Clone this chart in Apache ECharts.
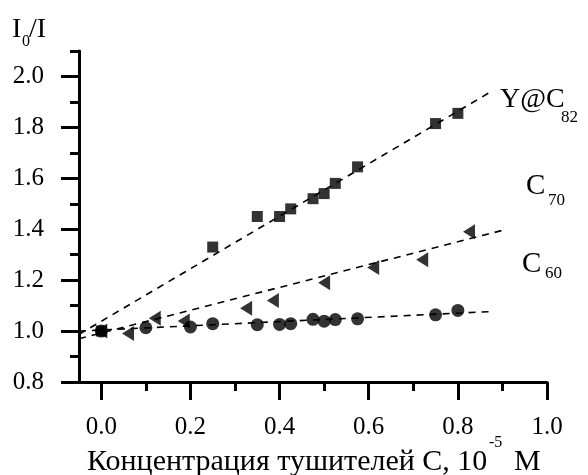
<!DOCTYPE html>
<html>
<head>
<meta charset="utf-8">
<script src="https://cdn.jsdelivr.net/npm/echarts@6/dist/echarts.min.js"></script>
<style>
  html, body { margin: 0; padding: 0; background: #fff; }
  #chart { width: 588px; height: 475px; }
</style>
</head>
<body>
<div id="chart"></div>
<script>
// Quencher concentration (10^-5 M) and I0/I for each fullerene
const concC82 = [0, 0.25, 0.35, 0.40, 0.425, 0.475, 0.50, 0.525, 0.575, 0.75, 0.80];
const ratioC82 = [1.00, 1.33, 1.45, 1.45, 1.48, 1.52, 1.54, 1.58, 1.645, 1.815, 1.855];

const concC70 = [0, 0.06, 0.12, 0.185, 0.325, 0.385, 0.50, 0.61, 0.72, 0.825];
const ratioC70 = [1.00, 0.99, 1.05, 1.04, 1.09, 1.12, 1.19, 1.25, 1.28, 1.39];

const concC60 = [0, 0.10, 0.20, 0.25, 0.35, 0.40, 0.425, 0.475, 0.50, 0.525, 0.575, 0.75, 0.80];
const ratioC60 = [1.00, 1.013, 1.016, 1.029, 1.025, 1.026, 1.029, 1.046, 1.039, 1.045, 1.048, 1.064, 1.081];

// Linear fits (end points of the dashed lines)
const fitC82 = [[-0.05, 0.987], [0.879, 1.945]];
const fitC70 = [[-0.05, 0.97], [0.91, 1.40]];
const fitC60 = [[-0.05, 1.00], [0.88, 1.077]];

// Axis ticks
const xMajor = [0.0, 0.2, 0.4, 0.6, 0.8, 1.0];
const xMinor = [0.1, 0.3, 0.5, 0.7, 0.9];
const yMajor = [0.8, 1.0, 1.2, 1.4, 1.6, 1.8, 2.0];
const yMinor = [0.9, 1.1, 1.3, 1.5, 1.7, 1.9, 2.1];

const FONT = "'Liberation Serif', 'Times New Roman', serif";
const pairs = (xs, ys) => xs.map((x, i) => [x, ys[i]]);

const chart = echarts.init(document.getElementById('chart'), null, { renderer: 'canvas' });

const tickStyle = { color: '#000', width: 3 };

// Value axis with explicit tick positions; a second copy without a line carries the short minor ticks
function axis(min, max, pos, showLine, ticks, tickLen, labels, margin) {
  return {
    type: 'value', min: min, max: max, position: pos,
    splitLine: { show: false },
    axisLine: { show: showLine, onZero: false, lineStyle: { color: '#000', width: 3 } },
    axisTick: { show: true, customValues: ticks, length: tickLen, lineStyle: tickStyle },
    axisLabel: labels ? {
      show: true, customValues: labels, margin: margin, color: '#000',
      fontSize: 25, fontFamily: FONT, formatter: v => v.toFixed(1)
    } : { show: false }
  };
}

function txt(x, y, text, size) {
  return {
    type: 'text', left: x, top: y,
    style: { text: text, font: size + 'px ' + FONT, fill: '#000' }
  };
}

const option = {
  animation: false,
  backgroundColor: '#fff',
  grid: { left: 79, right: 41, top: 51, bottom: 93, containLabel: false, outerBoundsMode: 'none' },
  xAxis: [
    axis(-0.05, 1.0, 'bottom', true, xMajor, 18, xMajor, 33),
    axis(-0.05, 1.0, 'bottom', false, xMinor, 9, null, 0)
  ],
  yAxis: [
    axis(0.8, 2.1, 'left', true, yMajor, 18, yMajor, 35),
    axis(0.8, 2.1, 'left', false, yMinor, 9, null, 0)
  ],
  series: [
    { type: 'line', data: fitC82, symbol: 'none', silent: true, z: 1,
      lineStyle: { color: '#000', width: 1.6, type: [7, 6] } },
    { type: 'line', data: fitC70, symbol: 'none', silent: true, z: 1,
      lineStyle: { color: '#000', width: 1.6, type: [7, 6] } },
    { type: 'line', data: fitC60, symbol: 'none', silent: true, z: 1,
      lineStyle: { color: '#000', width: 1.6, type: [7, 6] } },
    { type: 'scatter', name: 'Y@C82', data: pairs(concC82, ratioC82), z: 3,
      symbol: 'rect', symbolSize: 11, itemStyle: { color: '#000' } },
    { type: 'scatter', name: 'C70', data: pairs(concC70, ratioC70), z: 3,
      symbol: 'triangle', symbolSize: [15, 12], symbolRotate: 90, itemStyle: { color: '#000' } },
    { type: 'scatter', name: 'C60', data: pairs(concC60, ratioC60), z: 3,
      symbol: 'circle', symbolSize: 13, itemStyle: { color: '#000' } }
  ],
  graphic: [
    // y axis title I0/I
    txt(12, 16, 'I', 28),
    txt(22, 34, '0', 16),
    txt(29, 16, '/I', 28),
    // x axis title with the 10^-5 exponent
    txt(87, 447, 'Концентрация тушителей С, 10', 30),
    txt(489, 435, '-5', 16),
    txt(514, 447, 'М', 30),
    // curve labels
    txt(500, 86, 'Y@C', 28),
    txt(561, 109, '82', 17),
    txt(526, 172, 'C', 29),
    txt(548, 192, '70', 17),
    txt(522, 250, 'C', 29),
    txt(545, 265, '60', 17)
  ]
};

chart.setOption(option);
</script>
</body>
</html>
